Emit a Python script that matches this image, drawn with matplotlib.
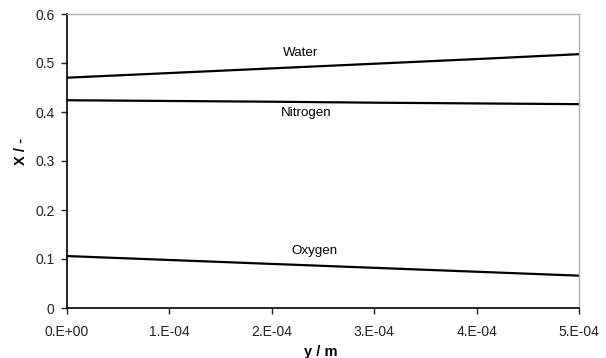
import numpy as np
import matplotlib
matplotlib.use("Agg")
import matplotlib.pyplot as plt

plt.rcParams['font.family'] = ['Liberation Sans', 'DejaVu Sans']

y_pos = [0.0, 1e-4, 2e-4, 3e-4, 4e-4, 5e-4]
water = [0.470, 0.4795, 0.489, 0.4985, 0.508, 0.518]
nitrogen = [0.424, 0.4225, 0.421, 0.419, 0.4175, 0.416]
oxygen = [0.106, 0.098, 0.090, 0.082, 0.074, 0.066]
xticks = [0.0, 1e-4, 2e-4, 3e-4, 4e-4, 5e-4]
xtick_labels = ["0.E+00", "1.E-04", "2.E-04", "3.E-04", "4.E-04", "5.E-04"]
yticks = [0, 0.1, 0.2, 0.3, 0.4, 0.5, 0.6]
ytick_labels = ["0", "0.1", "0.2", "0.3", "0.4", "0.5", "0.6"]
labels = ["Water", "Nitrogen", "Oxygen"]
label_pos = [(2.28e-4, 0.520), (2.34e-4, 0.398), (2.42e-4, 0.116)]

fig = plt.figure(figsize=(6.06, 3.58), dpi=100)
ax = fig.add_axes([67/606, 1-308/358, 512/606, 294/358])

for s in [water, nitrogen, oxygen]:
    ax.plot(y_pos, s, color='black', lw=1.6)

for t, (px, py) in zip(labels, label_pos):
    ax.text(px, py, t, ha='center', va='center', fontsize=9.6)

ax.set_xlim(0, 5e-4)
ax.set_ylim(0, 0.6)
ax.set_xticks(xticks)
ax.set_xticklabels(xtick_labels)
ax.set_yticks(yticks)
ax.set_yticklabels(ytick_labels)
ax.tick_params(labelsize=10, direction='out', length=4, width=1, colors='#222222')
ax.tick_params(axis='x', pad=8)
ax.tick_params(axis='y', pad=5)
for sp in ['top', 'right']:
    ax.spines[sp].set_color('#b0b0b0')
    ax.spines[sp].set_linewidth(1)
for sp in ['left', 'bottom']:
    ax.spines[sp].set_color('black')
    ax.spines[sp].set_linewidth(1.2)

fig.text(321/606, 1-352/358, 'y / m', fontsize=10.5, fontweight='bold',
         ha='center', va='center')
fig.text(21/606, 1-151/358, 'X / -', fontsize=10.5, fontweight='bold',
         ha='center', va='center', rotation=90)

fig.savefig('out.png', dpi=100)
